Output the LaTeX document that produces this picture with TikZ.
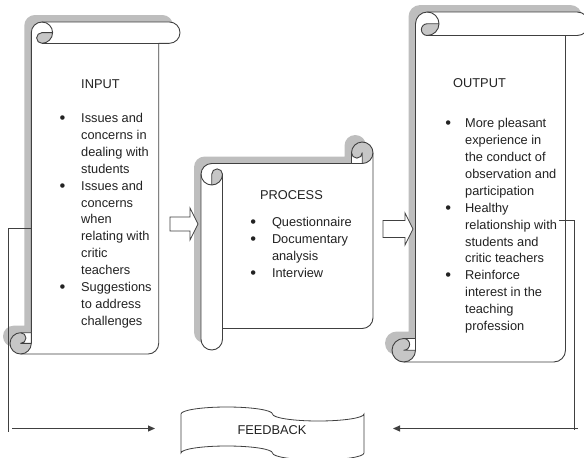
\documentclass[tikz,border=0pt]{standalone}
\usepackage{fontspec}
\setmainfont{Liberation Sans}
\usetikzlibrary{arrows.meta}

\definecolor{inkline}{HTML}{404040}
\definecolor{inktext}{HTML}{222222}
\definecolor{shadowgray}{HTML}{BEBEBE}
\definecolor{curlgray}{HTML}{C6C6C6}

\tikzset{
  scrollline/.style={draw=inkline, line width=0.9pt, line join=round},
  scrollfill/.style={fill=white},
  scrollshadow/.style={fill=shadowgray},
  scrollcurl/.style={fill=curlgray},
  blockarrow/.style={draw=inkline, fill=white, line width=0.8pt, line join=miter},
  tapeshape/.style={draw=inkline, fill=white, line width=0.8pt},
  flowline/.style={draw=inkline, line width=0.9pt},
  flowarrow/.style={flowline, -{Triangle[length=7pt,width=6pt]}},
  bodytext/.style={inner sep=0pt, text=inktext, font=\fontsize{12.8}{16.9}\selectfont},
  heading/.style={bodytext, anchor=base west},
  itemlist/.style={bodytext, anchor=base west},
}

% list bullet, set in a box of the given width
\newcommand\itemdot[1]{\makebox[#1][l]{\raisebox{-0.9pt}{\fontsize{16.5}{16.5}\selectfont\textbullet}}}

% Vertical scroll: #1 left, #2 top, #3 width, #4 height, #5 roll thickness
\newcommand\vertscroll[5]{%
\begin{scope}[shift={(#1,#2)}]
  \pgfmathsetmacro\rollC{#5}
  \pgfmathsetmacro\rollH{#5/2}
  \pgfmathsetmacro\rollQ{#5/4}
  \pgfmathsetmacro\rollXa{1.5*#5}
  \pgfmathsetmacro\rollXb{2*#5}
  \pgfmathsetmacro\rollXc{#3-#5}
  \pgfmathsetmacro\rollXd{#3-#5/2}
  \pgfmathsetmacro\rollYa{#4-#5}
  \pgfmathsetmacro\rollYb{#4-#5/2}
  \def\vertoutline##1{\path[##1] (\rollC,\rollYa) -- (\rollC,\rollH)
      arc[start angle=180,delta angle=90,radius=\rollH] -- (\rollXd,0)
      arc[start angle=270,delta angle=180,radius=\rollH] -- (\rollXc,\rollC)
      -- (\rollXc,\rollYb) arc[start angle=0,delta angle=90,radius=\rollH]
      -- (\rollH,#4) arc[start angle=90,delta angle=180,radius=\rollH] -- cycle;}
  \vertoutline{scrollshadow,shift={(-7,-7)}}
  \vertoutline{scrollfill}
  \path[scrollcurl] (\rollXb,\rollH) arc[start angle=0,delta angle=90,radius=\rollH]
      arc[start angle=90,delta angle=180,radius=\rollQ] -- cycle;
  \path[scrollcurl] (\rollC,\rollYb) arc[start angle=0,delta angle=270,radius=\rollH]
      arc[start angle=270,delta angle=180,radius=\rollQ] -- cycle;
  \vertoutline{scrollline}
  \path[scrollline] (\rollXa,0) arc[start angle=270,delta angle=180,radius=\rollH]
      arc[start angle=90,delta angle=180,radius=\rollQ] -- (\rollXb,\rollH);
  \path[scrollline] (\rollXc,\rollC) -- (\rollXa,\rollC);
  \path[scrollline] (\rollH,\rollYa) arc[start angle=270,delta angle=180,radius=\rollQ]
      -- (\rollC,\rollYb);
  \path[scrollline] (\rollH,#4) arc[start angle=90,delta angle=-90,radius=\rollH]
      -- (\rollC,\rollYa);
\end{scope}}

% Horizontal scroll: #1 left, #2 top, #3 width, #4 height, #5 roll thickness
\newcommand\horzscroll[5]{%
\begin{scope}[shift={(#1,#2)}]
  \pgfmathsetmacro\rollC{#5}
  \pgfmathsetmacro\rollH{#5/2}
  \pgfmathsetmacro\rollQ{#5/4}
  \pgfmathsetmacro\rollXa{#3-#5}
  \pgfmathsetmacro\rollXb{#3-#5/2}
  \pgfmathsetmacro\rollYa{1.5*#5}
  \pgfmathsetmacro\rollYb{2*#5}
  \pgfmathsetmacro\rollYc{#4-1.5*#5}
  \pgfmathsetmacro\rollYd{#4-#5}
  \pgfmathsetmacro\rollYe{#4-#5/2}
  \def\horzoutline##1{\path[##1] (0,\rollYa)
      arc[start angle=180,delta angle=90,radius=\rollH] -- (\rollXa,\rollC)
      -- (\rollXa,\rollH) arc[start angle=180,delta angle=180,radius=\rollH]
      -- (#3,\rollYc) arc[start angle=0,delta angle=90,radius=\rollH]
      -- (\rollC,\rollYd) -- (\rollC,\rollYe)
      arc[start angle=0,delta angle=180,radius=\rollH] -- cycle;}
  \horzoutline{scrollshadow,shift={(-7,-7)}}
  \horzoutline{scrollfill}
  \path[scrollcurl] (\rollH,\rollYb) arc[start angle=90,delta angle=-90,radius=\rollH]
      arc[start angle=0,delta angle=-180,radius=\rollQ] -- cycle;
  \path[scrollcurl] (\rollXb,\rollC) arc[start angle=90,delta angle=-270,radius=\rollH]
      arc[start angle=180,delta angle=-180,radius=\rollQ] -- cycle;
  \horzoutline{scrollline}
  \path[scrollline] (\rollXa,\rollC) -- (\rollXb,\rollC)
      arc[start angle=90,delta angle=-90,radius=\rollH];
  \path[scrollline] (\rollXb,\rollC) -- (\rollXb,\rollH)
      arc[start angle=0,delta angle=180,radius=\rollQ];
  \path[scrollline] (\rollH,\rollYb) -- (\rollH,\rollYa)
      arc[start angle=180,delta angle=180,radius=\rollQ]
      arc[start angle=0,delta angle=180,radius=\rollH];
  \path[scrollline] (\rollC,\rollYa) -- (\rollC,\rollYd);
\end{scope}}

\begin{document}
\begin{tikzpicture}[x=1pt, y=-1pt]
  \fill[white] (0,0) rectangle (584,458);
  \useasboundingbox (0,0) rectangle (584,458);

  % the three scrolls
  \vertscroll{10}{22}{170}{332}{21.3}
  \horzscroll{201}{142}{172}{208}{21.5}
  \vertscroll{392}{12}{197}{350}{23.5}

  % block arrows between the scrolls
  \path[blockarrow] (170,217) -- (190,217) -- (190,208) -- (198,224)
      -- (190,240) -- (190,231) -- (170,231) -- cycle;
  \path[blockarrow] (383,220.5) -- (405,220.5) -- (405,213) -- (413,229)
      -- (405,245) -- (405,237.5) -- (383,237.5) -- cycle;

  % feedback banner
  \path[tapeshape] (181,414)
      arc[start angle=180,end angle=360,x radius=45.75,y radius=7]
      arc[start angle=180,end angle=0,x radius=45.75,y radius=7]
      -- (364,453)
      arc[start angle=0,end angle=180,x radius=45.75,y radius=7]
      arc[start angle=360,end angle=180,x radius=45.75,y radius=7]
      -- cycle;
  \node[bodytext] (feedback) at (272,430) {FEEDBACK};

  % INPUT
  \node[heading] (inputtitle) at (81,88.6) {INPUT};
  \node[itemlist] (inputlist) at (59.4,122.5) {\begin{tabular}[t]{@{}l@{}l@{}}
    \itemdot{21.6pt} & Issues and\\
     & concerns in\\
     & dealing with\\
     & students\\
    \itemdot{21.6pt} & Issues and\\
     & concerns\\
     & when\\
     & relating with\\
     & critic\\
     & teachers\\
    \itemdot{21.6pt} & Suggestions\\
     & to address\\
     & challenges
  \end{tabular}};

  % PROCESS
  \node[heading] (processtitle) at (260,199.6) {PROCESS};
  \node[itemlist] (processlist) at (250.2,226.5) {\begin{tabular}[t]{@{}l@{}l@{}}
    \itemdot{21.6pt} & Questionnaire\\
    \itemdot{21.6pt} & Documentary\\
     & analysis\\
    \itemdot{21.6pt} & Interview
  \end{tabular}};

  % OUTPUT
  \node[heading] (outputtitle) at (453,87.6) {OUTPUT};
  \node[itemlist] (outputlist) at (445.2,127.7) {\begin{tabular}[t]{@{}l@{}l@{}}
    \itemdot{19.8pt} & More pleasant\\
     & experience in\\
     & the conduct of\\
     & observation and\\
     & participation\\
    \itemdot{19.8pt} & Healthy\\
     & relationship with\\
     & students and\\
     & critic teachers\\
    \itemdot{19.8pt} & Reinforce\\
     & interest in the\\
     & teaching\\
     & profession
  \end{tabular}};

  % feedback loop, left side
  \coordinate (leftstart) at (31.3,228);
  \coordinate (leftcorner) at (8,228);
  \coordinate (leftfoot) at (8,432);
  \coordinate (leftarrowstart) at (12,428.5);
  \coordinate (leftarrowtip) at (155,428.5);
  \draw[flowline] (leftstart) -- (leftcorner) -- (leftfoot);
  \draw[flowarrow] (leftarrowstart) -- (leftarrowtip);

  % feedback loop, right side
  \coordinate (rightstart) at (559,220);
  \coordinate (rightcorner) at (574,220);
  \coordinate (rightfoot) at (574,430);
  \coordinate (rightarrowstart) at (578,428.5);
  \coordinate (rightarrowtip) at (393,428.5);
  \draw[flowline] (rightstart) -- (rightcorner) -- (rightfoot);
  \draw[flowarrow] (rightarrowstart) -- (rightarrowtip);
\end{tikzpicture}
\end{document}
